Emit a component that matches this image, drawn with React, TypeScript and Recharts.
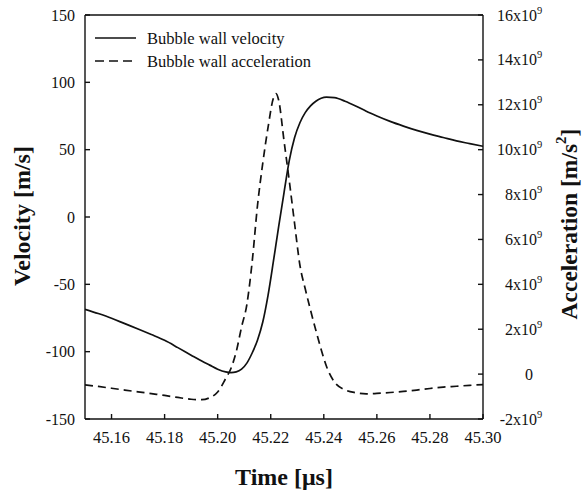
import React from 'react';
import { LineChart, Line, XAxis, YAxis, ReferenceLine, Legend } from 'recharts';

// Time in microseconds
const times = [
  45.150, 45.155, 45.160, 45.165, 45.170, 45.175, 45.180, 45.185, 45.190, 45.194,
  45.197, 45.200, 45.203, 45.205, 45.207, 45.209, 45.211, 45.213, 45.215, 45.217,
  45.219, 45.221, 45.222, 45.223, 45.225, 45.227, 45.229, 45.231, 45.233, 45.235,
  45.237, 45.239, 45.241, 45.244, 45.248, 45.252, 45.256, 45.260, 45.265, 45.270,
  45.275, 45.280, 45.285, 45.290, 45.295, 45.300,
];

// Bubble wall velocity [m/s]
const velocity = [
  -68.5, -71.7, -75.2, -79.2, -83.2, -87.3, -91.6, -97, -102.6, -107,
  -110, -113, -115, -115.5, -115, -113, -108.5, -101, -91.5, -78,
  -58, -33, -20, -7, 18, 42, 59, 70, 77.5, 82.5,
  86, 88.2, 89, 88.6, 86, 82.5, 78.5, 75, 71, 67.5,
  64.3, 61.5, 59, 56.5, 54.5, 52.5,
];

// Bubble wall acceleration [10^9 m/s^2]
const acceleration = [
  -0.48, -0.55, -0.63, -0.71, -0.79, -0.87, -0.95, -1.04, -1.12, -1.14,
  -1.05, -0.8, -0.2, 0.25, 1.0, 2.1, 3.1, 5.0, 7.5, 9.4,
  11.0, 12.3, 12.5, 12.2, 10.4, 8.6, 6.7, 4.85, 3.8, 2.85,
  1.95, 1.1, 0.35, -0.35, -0.7, -0.83, -0.88, -0.86, -0.82, -0.77,
  -0.71, -0.64, -0.58, -0.54, -0.5, -0.47,
];

const timeTicks = [45.16, 45.18, 45.2, 45.22, 45.24, 45.26, 45.28, 45.3];
const velocityTicks = [-150, -100, -50, 0, 50, 100, 150];
const accelTicks = [-2, 0, 2, 4, 6, 8, 10, 12, 14, 16];

const data = times.map((t, i) => ({ t, v: velocity[i], a: acceleration[i] }));

const FONT = '"Liberation Serif", "Times New Roman", serif';
const INK = '#111';

const TimeTick = (props: any) => {
  const { x, y, payload } = props;
  return (
    <text x={x} y={y} dy={12} textAnchor="middle" fontFamily={FONT} fontSize={16.5} fill={INK}>
      {Number(payload.value).toFixed(2)}
    </text>
  );
};

const VelTick = (props: any) => {
  const { x, y, payload } = props;
  return (
    <text x={x} y={y} dy={5.5} textAnchor="end" fontFamily={FONT} fontSize={16} fill={INK}>
      {payload.value}
    </text>
  );
};

const AccelTick = (props: any) => {
  const { x, y, payload } = props;
  const val = payload.value;
  if (val === 0) {
    return (
      <text x={x - 4} y={y} dy={5.5} textAnchor="end" fontFamily={FONT} fontSize={16} fill={INK}>0</text>
    );
  }
  return (
    <g>
      <text x={x} y={y} dy={5.5} textAnchor="end" fontFamily={FONT} fontSize={16} fill={INK}>{`${val}x10`}</text>
      <text x={x} y={y} dy={-1.5} textAnchor="start" fontFamily={FONT} fontSize={10.5} fill={INK}>9</text>
    </g>
  );
};

const LegendBox = () => (
  <svg width={260} height={60} style={{ display: 'block' }}>
    <line x1={5} y1={13} x2={46} y2={13} stroke={INK} strokeWidth={1.5} />
    <text x={57} y={13} dy={5.5} fontFamily={FONT} fontSize={16.5} fill={INK}>Bubble wall velocity</text>
    <line x1={5} y1={36} x2={46} y2={36} stroke={INK} strokeWidth={1.5} strokeDasharray="9 5" />
    <text x={57} y={36} dy={5.5} fontFamily={FONT} fontSize={16.5} fill={INK}>Bubble wall acceleration</text>
  </svg>
);

const LeftTitle = () => (
  <text transform="translate(24,216) rotate(-90)" textAnchor="middle" dominantBaseline="middle"
    fontFamily={FONT} fontSize={24} fontWeight="bold" fill={INK}>Velocity [m/s]</text>
);

const RightTitle = () => (
  <text transform="translate(572,224) rotate(-90)" textAnchor="middle" dominantBaseline="middle"
    fontFamily={FONT} fontSize={23.5} fontWeight="bold" fill={INK}>
    Acceleration [m/s<tspan dy={-9} fontSize={15}>2</tspan><tspan dy={9}>]</tspan>
  </text>
);

const BottomTitle = () => (
  <text x={284} y={485} textAnchor="middle" fontFamily={FONT} fontSize={24} fontWeight="bold" fill={INK}>Time [μs]</text>
);

export default function App() {
  return (
    <div style={{ position: 'absolute', left: 0, top: 0, width: 584, height: 492, background: '#fff' }}>
      <LineChart width={584} height={492} data={data} margin={{ top: 15, right: 0, bottom: 0, left: 0 }}
        style={{ fontFamily: FONT }}>
        <XAxis
          dataKey="t"
          type="number"
          domain={[45.15, 45.3]}
          ticks={timeTicks}
          height={73}
          tickSize={-5}
          tickMargin={17}
          stroke={INK}
          strokeWidth={1.4}
          tick={TimeTick}
          interval={0}
          allowDataOverflow
          label={{ content: BottomTitle }}
        />
        <YAxis
          yAxisId="left"
          orientation="left"
          domain={[-150, 150]}
          ticks={velocityTicks}
          width={85}
          tickSize={-5}
          tickMargin={15}
          stroke={INK}
          strokeWidth={1.4}
          tick={VelTick}
          interval={0}
          allowDataOverflow
          label={{ content: LeftTitle }}
        />
        <YAxis
          yAxisId="right"
          orientation="right"
          domain={[-2, 16]}
          ticks={accelTicks}
          width={101}
          tickSize={-5}
          tickMargin={59}
          stroke={INK}
          strokeWidth={1.4}
          tick={AccelTick}
          interval={0}
          allowDataOverflow
          label={{ content: RightTitle }}
        />
        <ReferenceLine yAxisId="left" y={150} stroke={INK} strokeWidth={1.4} />
        <Legend
          layout="vertical"
          align="center"
          verticalAlign="middle"
          content={LegendBox}
          wrapperStyle={{ left: 90, top: 25, width: 260, height: 60 }}
        />
        <Line
          yAxisId="left"
          dataKey="v"
          type="monotone"
          stroke={INK}
          strokeWidth={1.7}
          dot={false}
          isAnimationActive={false}
          name="Bubble wall velocity"
        />
        <Line
          yAxisId="right"
          dataKey="a"
          type="monotone"
          stroke={INK}
          strokeWidth={1.7}
          strokeDasharray="8 5"
          dot={false}
          isAnimationActive={false}
          name="Bubble wall acceleration"
        />
      </LineChart>
    </div>
  );
}
